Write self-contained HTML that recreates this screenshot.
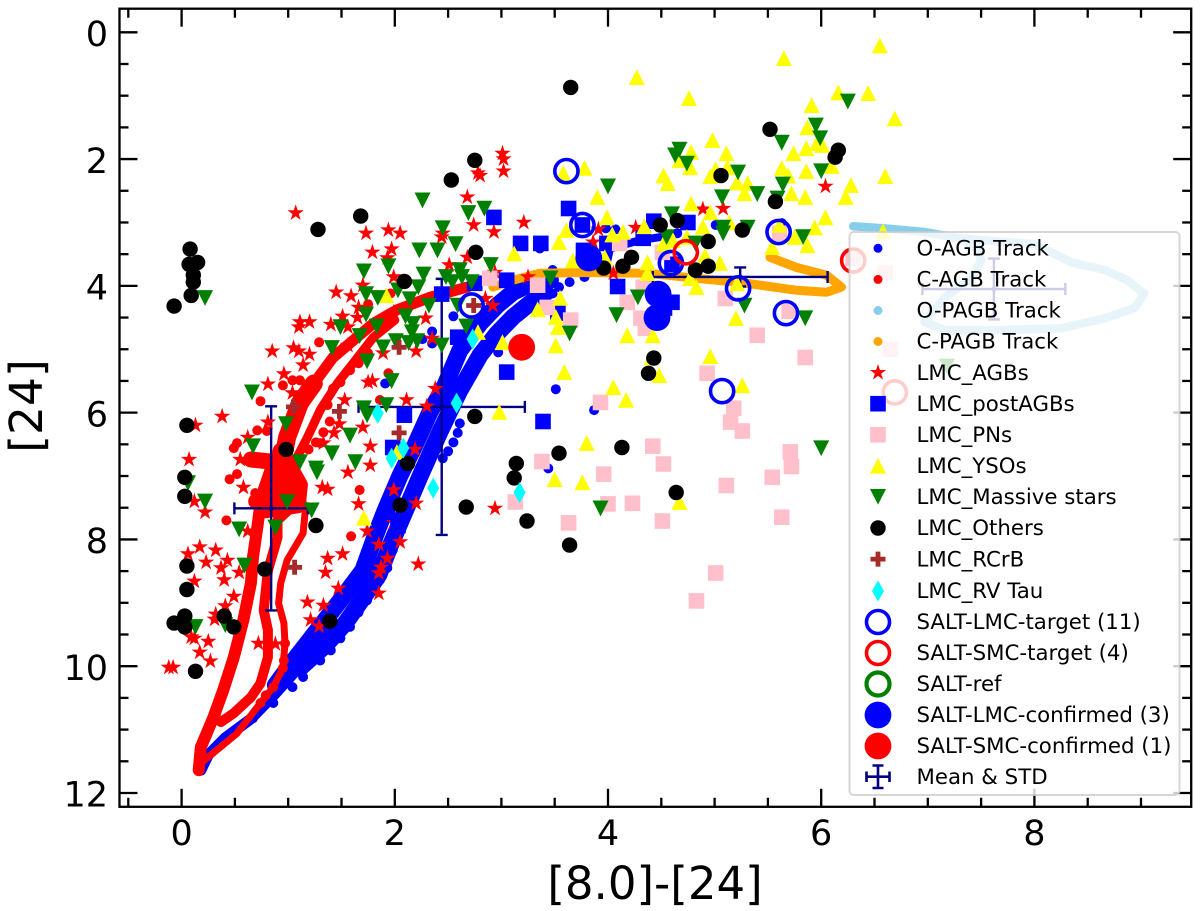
<!DOCTYPE html>
<html>
<head>
<meta charset="utf-8">
<title>Colour-magnitude diagram [24] vs [8.0]-[24]</title>
<style>
html,body{margin:0;padding:0;background:#fff;}
svg{display:block;}
text{font-family:"DejaVu Sans","Liberation Sans",sans-serif;fill:#000;}
.leg{font-size:21.3px;}
</style>
</head>
<body>
<svg id="chart" xmlns="http://www.w3.org/2000/svg" width="1200" height="911" viewBox="0 0 1200 911">
  <g id="tracks"></g>
  <g id="errorbars"></g>
  <g id="scatter"></g>
  <g id="axes"></g>

  <text x="655" y="899" font-size="45" text-anchor="middle">[8.0]-[24]</text>
  <text transform="translate(42,406) rotate(-90)" font-size="45.5" text-anchor="middle">[24]</text>

  <g>
    <rect x="849.5" y="232" width="330" height="563" rx="4" fill="#fff" fill-opacity="0.8" stroke="#ccc" stroke-opacity="0.8" stroke-width="2"/>
    <g><circle cx="878" cy="248.3" r="4.5" fill="#00f"/><text class="leg" x="916.5" y="255.5">O-AGB Track</text></g>
    <g><circle cx="878" cy="279.4" r="4.5" fill="#f00"/><text class="leg" x="916.5" y="286.6">C-AGB Track</text></g>
    <g><circle cx="878" cy="310.5" r="4.5" fill="#87ceeb"/><text class="leg" x="916.5" y="317.7">O-PAGB Track</text></g>
    <g><circle cx="878" cy="341.5" r="4.5" fill="#ffa500"/><text class="leg" x="916.5" y="348.7">C-PAGB Track</text></g>
    <g><polygon transform="translate(878,372.6)" points="0,-8.6 1.94,-2.66 8.18,-2.66 3.13,1.01 5.05,6.96 0,3.29 -5.05,6.96 -3.13,1.01 -8.18,-2.66 -1.94,-2.66" fill="#f00"/><text class="leg" x="916.5" y="379.8">LMC_AGBs</text></g>
    <g><rect x="870.2" y="395.9" width="15.6" height="15.6" fill="#00f"/><text class="leg" x="916.5" y="410.9">LMC_postAGBs</text></g>
    <g><rect x="870.2" y="427" width="15.6" height="15.6" fill="#ffc0cb"/><text class="leg" x="916.5" y="442">LMC_PNs</text></g>
    <g><polygon points="878,458 886,473.6 870,473.6" fill="#ff0"/><text class="leg" x="916.5" y="473">LMC_YSOs</text></g>
    <g><polygon points="870,489 886,489 878,504.6" fill="#008000"/><text class="leg" x="916.5" y="504.1">LMC_Massive stars</text></g>
    <g><circle cx="878" cy="528" r="7.7" fill="#000"/><text class="leg" x="916.5" y="535.2">LMC_Others</text></g>
    <g><path transform="translate(878,559.1)" d="M-2.4,-7.5H2.4V-2.4H7.5V2.4H2.4V7.5H-2.4V2.4H-7.5V-2.4H-2.4Z" fill="#a52a2a"/><text class="leg" x="916.5" y="566.3">LMC_RCrB</text></g>
    <g><polygon transform="translate(878,591)" points="0,-10.5 6,0 0,10.5 -6,0" fill="#0ff"/><text class="leg" x="916.5" y="598">LMC_RV Tau</text></g>
    <g><circle cx="878" cy="622" r="11.5" fill="none" stroke="#00f" stroke-width="3.6"/><text class="leg" x="916.5" y="629">SALT-LMC-target (11)</text></g>
    <g><circle cx="878" cy="653" r="11.5" fill="none" stroke="#f00" stroke-width="3.6"/><text class="leg" x="916.5" y="660">SALT-SMC-target (4)</text></g>
    <g><circle cx="878" cy="684" r="11.5" fill="none" stroke="#008000" stroke-width="4.2"/><text class="leg" x="916.5" y="691">SALT-ref</text></g>
    <g><circle cx="878" cy="715" r="13.4" fill="#00f"/><text class="leg" x="916.5" y="722">SALT-LMC-confirmed (3)</text></g>
    <g><circle cx="878" cy="746" r="13.4" fill="#f00"/><text class="leg" x="916.5" y="753">SALT-SMC-confirmed (1)</text></g>
    <g stroke="#000080" stroke-width="2.6" fill="none"><path d="M866.5,776.7H889.5M878,765.5V788M866.5,771.5V782M889.5,771.5V782M872.5,765.5H883.5M872.5,788H883.5"/><text class="leg" x="916.5" y="784" stroke="none" style="fill:#000">Mean &amp; STD</text></g>
  </g>
</svg>

<script>
/* ---------- chart data (values in axis units: [8.0]-[24], [24]) ---------- */
const xTickValues = [0, 2, 4, 6, 8];
const yTickValues = [0, 2, 4, 6, 8, 10, 12];
const xMinorTicks = [-0.5, 0.5, 1, 1.5, 2.5, 3, 3.5, 4.5, 5, 5.5, 6.5, 7, 7.5, 8.5, 9];
const yMinorTicks = [0.5, 1, 1.5, 2.5, 3, 3.5, 4.5, 5, 5.5, 6.5, 7, 7.5, 8.5, 9, 9.5, 10.5, 11, 11.5];

const oAgbTail = [[.18,11.64],[.25,11.40],[.41,11.13],[.65,10.83],[.88,10.43],[1.11,10.0]];
const oAgbStrandA = [[.88,10.30],[1.02,9.98],[1.26,9.46],[1.49,8.96],[1.70,8.49],[1.82,7.93],[1.91,7.54],[2.05,6.99],[2.19,6.51],[2.33,5.99],[2.47,5.57],[2.61,5.02],[2.80,4.59],[2.96,4.31],[3.11,4.10],[3.27,3.97],[3.46,3.91]];
const oAgbStrandB = [[1.11,10.03],[1.35,9.67],[1.54,9.31],[1.72,8.88],[1.85,8.56],[1.96,8.09],[2.10,7.54],[2.24,6.99],[2.43,6.28],[2.61,5.65],[2.80,5.09],[2.96,4.75],[3.11,4.49],[3.27,4.27],[3.41,4.12]];
const oAgbStrandC = [[3.99,3.63],[4.02,3.41],[4.30,3.28],[4.53,3.22]];
const oAgbDots = [[2.55,4.48],[2.35,4.72],[2.26,4.84],[2.35,4.91],[1.91,5.54],[2.61,6.17],[2.59,6.32],[2.55,6.47],[2.50,6.61],[2.45,6.72],[3.51,5.63],[3.87,5.96],[3.44,6.88],[2.97,5.05],[3.98,3.09],[4.07,3.11],[4.65,3.17],[5.01,3.04],[5.63,3.01],[3.36,3.41],[3.48,3.75],[3.64,3.94],[3.54,4.02],[3.48,4.12],[3.39,4.18],[3.78,3.86],[.67,10.82],[.86,10.58],[1.04,10.33],[1.14,10.17],[1.30,9.91],[1.40,9.75],[1.49,9.56],[1.58,9.38],[1.66,9.15],[1.74,8.96],[1.80,8.80],[1.86,8.64],[1.93,8.45],[1.98,8.17]];

const cAgbOuter = [[.16,11.64],[.18,11.28],[.30,10.80],[.39,10.38],[.49,9.86],[.58,9.27],[.65,8.69],[.67,8.28],[.71,7.81],[.74,7.43],[.81,7.07],[.93,6.91]];
const cAgbUpperThick = [[.85,7.10],[.93,6.91],[.99,6.39],[1.11,5.85],[1.24,5.54]];
const cAgbUpperBand = [[1.24,5.54],[1.42,5.13],[1.61,4.86],[1.80,4.59],[2.02,4.38],[2.33,4.18],[2.68,4.02]];
const cAgbInnerLoop = [[.30,10.80],[.37,10.88],[.49,10.74],[.65,10.49],[.74,10.27],[.81,9.86],[.81,9.43],[.77,9.12],[.81,8.49],[.90,7.97],[.90,7.70],[1.02,7.51],[1.09,7.33],[1.02,7.11]];
const cAgbSecondBand = [[1.02,6.91],[1.18,6.39],[1.30,5.96],[1.46,5.54],[1.61,5.22],[1.80,4.81],[2.00,4.54]];
const cAgbOuterRight = [[.18,11.53],[.52,11.06],[.74,10.58],[.86,10.33],[.95,10.03],[.97,9.64],[.96,9.32],[.91,9.01],[.93,8.69],[.99,8.33],[1.14,7.90],[1.16,7.54],[1.11,7.22],[1.05,7.02],[.93,6.78]];
const cAgbKnot = [[.65,6.74],[.88,6.78],[.79,7.22],[1.02,6.91],[.95,7.38],[.79,7.54],[1.09,7.46],[1.11,7.14],[.93,6.60],[.86,7.40],[.70,7.40]];
const cAgbDots = [[1.29,4.89],[.74,5.82],[.71,6.28],[.80,6.29],[.52,6.48],[.49,6.56],[.67,6.72],[.77,6.72],[.95,5.57],[1.04,5.49],[1.11,5.49],[1.75,4.29],[1.96,4.12],[1.94,5.38],[1.86,5.80],[1.75,5.06],[1.39,6.14],[1.33,6.31],[1.26,6.47],[1.19,6.58],[1.30,6.48],[1.66,5.22],[1.58,5.33],[1.49,5.52],[1.42,5.62],[1.37,5.88],[.52,6.97],[.45,7.05],[.42,7.70],[.69,7.27],[1.67,7.22],[1.59,7.95],[.97,9.64],[.96,9.91],[.95,10.03],[.86,10.33],[.79,10.46],[.74,10.58]];

const oPagbTrack = [[6.30,3.06],[6.58,3.09],[6.97,3.15],[7.30,3.25],[7.67,3.30],[8.00,3.34],[8.35,3.63],[8.66,3.75],[8.87,3.91],[9.03,4.12],[8.94,4.35],[8.66,4.51],[8.25,4.67],[7.63,4.70],[7.16,4.70],[6.97,4.57],[7.16,4.18],[7.41,3.88],[7.50,3.60],[7.47,3.41],[7.30,3.25]];
const cPagbTrack = [[5.52,3.55],[5.77,3.71],[6.05,3.83],[6.19,4.02],[6.05,4.10],[5.77,4.07],[5.30,3.96],[4.83,3.88],[4.37,3.80],[3.74,3.79],[3.36,3.80],[3.11,3.91],[2.92,4.02]];

const lmcAgbs = [[1.07,2.85],[1.73,3.17],[1.94,3.12],[2.05,3.17],[1.79,3.47],[1.97,3.42],[1.93,3.56],[2.44,3.23],[2.45,3.17],[2.74,3.04],[2.78,2.22],[2.68,2.60],[2.68,3.55],[2.51,3.67],[1.99,3.86],[1.70,3.99],[1.45,4.10],[1.59,4.16],[1.66,4.34],[1.51,4.48],[1.20,4.57],[1.11,4.57],[1.10,4.65],[1.40,4.61],[1.65,4.50],[1.56,4.65],[.85,5.03],[1.05,4.98],[1.10,5.03],[1.20,5.08],[1.14,5.25],[1.56,4.94],[1.89,5.06],[2.20,5.03],[2.35,4.83],[2.29,4.51],[1.99,4.42],[.96,5.39],[.81,5.55],[1.04,5.69],[1.75,5.52],[1.79,5.50],[1.53,5.80],[2.11,5.80],[2.38,5.62],[2.30,5.90],[.38,6.06],[.81,6.15],[1.70,6.23],[1.48,6.18],[1.43,6.32],[.62,6.39],[1.33,6.48],[1.77,6.53],[2.19,6.58],[.07,6.74],[.55,6.74],[1.77,6.83],[.13,6.20],[.58,7.18],[.12,7.40],[.22,7.57],[.62,7.87],[1.56,6.94],[1.32,7.18],[1.37,7.21],[1.66,7.44],[1.74,7.87],[1.99,7.22],[2.20,7.43],[1.99,7.73],[1.85,8.08],[2.05,8.04],[.06,8.23],[.17,8.12],[.32,8.17],[.23,8.36],[.43,8.33],[.37,8.45],[.54,8.52],[.40,8.64],[.12,8.66],[1.37,8.30],[1.51,8.23],[1.35,8.52],[1.47,8.77],[1.93,8.30],[1.87,8.44],[1.85,8.53],[2.22,8.39],[1.85,8.85],[.49,8.90],[1.18,8.99],[1.33,9.04],[.41,9.05],[.32,9.18],[.31,9.26],[1.21,9.27],[1.29,9.37],[.09,9.54],[.12,9.56],[.25,9.61],[.72,9.64],[.88,9.65],[.17,9.78],[.27,9.92],[-.12,10.02],[-.08,10.02],[3.01,1.91],[3.02,2.00],[3.02,2.19],[2.80,2.26],[3.21,3.00],[2.93,3.15],[3.91,3.11],[4.26,3.08],[4.89,2.79],[5.08,2.78],[6.04,2.43],[3.86,3.31],[4.05,3.80],[3.25,3.86],[2.92,4.31],[2.85,4.20],[2.94,3.79],[2.94,7.51]];
const lmcPostAgbs = [[2.75,3.96],[2.44,4.13],[2.59,4.81],[2.09,6.04],[1.98,6.55],[1.93,7.57],[2.03,7.78],[2.93,2.92],[3.63,2.78],[3.18,3.33],[3.37,3.33],[3.76,3.04],[3.05,3.91],[3.77,3.44],[3.99,3.33],[4.33,3.25],[4.43,2.98],[4.75,3.00],[4.60,3.66],[4.09,4.01],[4.60,4.26],[4.53,4.35],[3.53,4.43],[3.05,5.36],[3.39,6.14]];
const lmcPns = [[2.89,3.88],[3.34,3.99],[4.11,3.33],[4.18,4.26],[4.33,4.02],[4.31,4.51],[4.35,4.67],[5.10,4.20],[5.61,3.17],[5.70,4.40],[3.43,4.34],[3.65,4.54],[5.40,4.78],[4.51,3.47],[6.30,3.56],[6.60,3.79],[6.65,5.00],[5.85,5.13],[4.93,5.38],[5.18,5.93],[5.15,6.15],[5.26,6.29],[3.93,5.84],[4.42,6.53],[4.52,6.81],[3.96,6.97],[5.11,7.15],[5.54,7.02],[5.71,6.62],[5.72,6.85],[3.38,6.77],[3.13,7.41],[4.00,7.44],[4.23,7.43],[4.51,7.71],[3.63,7.74],[5.63,7.65],[5.01,8.53],[4.83,8.97]];
const lmcYsos = [[5.65,.41],[6.55,.21],[6.69,1.36],[6.44,.96],[6.60,2.27],[6.58,3.14],[4.27,.71],[4.76,1.04],[4.98,1.70],[5.11,1.91],[4.78,1.89],[6.16,.95],[5.91,1.15],[5.87,1.50],[5.74,1.91],[5.86,1.83],[5.96,1.75],[6.01,1.78],[5.63,2.14],[5.69,2.26],[5.86,2.19],[6.10,2.11],[4.77,2.13],[4.67,2.02],[4.52,2.26],[4.56,2.38],[3.78,2.14],[3.58,2.22],[5.01,2.16],[4.96,2.27],[5.12,2.13],[5.21,2.37],[5.31,2.38],[5.28,2.54],[5.72,2.54],[5.85,2.60],[6.28,2.41],[6.23,2.60],[3.90,2.60],[3.99,2.92],[4.78,2.70],[4.96,2.84],[6.04,2.92],[5.94,3.08],[3.61,3.12],[3.54,3.31],[4.04,3.19],[4.14,3.15],[4.34,3.06],[4.89,3.07],[5.14,3.00],[4.52,3.33],[4.61,3.28],[4.74,3.23],[3.12,3.49],[3.67,3.60],[3.97,3.55],[4.37,3.63],[4.91,3.52],[5.05,3.64],[5.54,3.39],[5.87,3.36],[5.61,3.04],[5.75,3.23],[4.77,3.88],[4.83,4.02],[5.21,3.96],[4.37,3.80],[3.55,4.19],[3.34,4.37],[3.51,4.49],[3.53,4.65],[4.18,4.78],[4.42,4.78],[5.20,4.51],[3.51,4.94],[3.01,4.89],[3.59,5.36],[4.05,5.60],[4.17,5.80],[4.96,5.11],[5.26,5.57],[4.41,5.13],[4.48,5.41],[2.98,5.99],[3.80,6.48],[3.50,7.05],[3.76,7.10],[4.67,7.41],[1.92,4.15],[1.71,7.66],[2.78,4.73],[2.02,6.62]];
const lmcMassive = [[2.26,2.65],[2.45,3.09],[2.69,2.85],[2.57,3.34],[2.40,3.44],[2.23,3.44],[1.71,3.77],[1.94,3.69],[2.27,3.82],[2.48,3.86],[2.61,3.75],[2.72,3.94],[2.54,3.94],[2.63,3.86],[2.22,4.02],[2.03,4.07],[1.73,4.13],[1.84,4.19],[2.14,4.21],[2.32,4.31],[1.73,4.45],[2.10,4.48],[1.83,4.64],[2.17,4.60],[1.49,4.65],[1.67,4.79],[2.16,4.73],[2.67,4.64],[1.41,4.98],[1.89,4.97],[2.01,4.87],[2.21,4.87],[2.13,4.90],[2.44,4.94],[1.74,5.19],[1.97,5.50],[.66,5.68],[1.92,5.88],[1.71,5.93],[1.74,6.04],[.98,6.18],[1.58,6.36],[.67,6.53],[1.41,6.64],[1.11,6.78],[1.26,6.88],[1.63,6.78],[.22,4.19],[2.59,4.31],[.06,7.11],[.22,7.40],[.99,7.41],[1.22,7.54],[.54,7.84],[.88,7.81],[.59,8.41],[.13,9.38],[.41,9.35],[1.27,6.94],[4.00,2.43],[4.67,1.85],[4.63,1.94],[4.74,2.07],[5.22,2.21],[5.40,2.55],[5.07,2.60],[5.63,1.74],[5.95,1.47],[5.99,1.67],[6.25,1.09],[6.00,2.19],[5.64,2.40],[5.59,2.62],[4.60,2.87],[5.08,3.08],[5.31,3.08],[5.08,3.17],[5.83,3.23],[4.82,3.33],[4.55,3.23],[3.46,3.88],[2.90,3.67],[2.84,2.78],[4.28,4.18],[4.08,4.46],[5.28,4.31],[5.85,4.51],[3.64,4.75],[6.00,6.56],[3.93,7.51],[7.18,5.27]];
const lmcOthers = [[3.65,.87],[5.52,1.53],[6.16,1.86],[6.13,1.97],[5.06,2.26],[5.57,2.67],[2.75,2.02],[2.53,2.33],[1.68,2.90],[1.28,3.11],[.08,3.42],[.07,3.66],[.15,3.63],[.11,3.83],[.11,3.94],[.09,4.15],[-.07,4.32],[2.09,3.93],[2.76,3.47],[.05,6.20],[.98,6.58],[2.12,6.80],[2.75,6.06],[.03,7.02],[.03,7.32],[2.05,7.46],[2.67,7.49],[1.26,7.78],[.05,8.42],[.78,8.47],[.05,8.79],[.03,9.21],[-.07,9.32],[.03,9.38],[.40,9.21],[.49,9.38],[1.39,9.29],[.13,10.08],[4.49,3.04],[4.65,2.97],[5.26,3.12],[4.94,3.30],[4.22,3.55],[4.14,3.69],[3.96,3.72],[4.82,3.75],[4.94,3.69],[4.43,5.14],[4.38,5.38],[3.54,6.64],[4.13,6.55],[3.14,6.80],[3.12,7.03],[4.64,7.26],[3.24,7.71],[3.64,8.09]];
const lmcRcrb = [[2.74,4.31],[2.04,4.97],[1.05,5.91],[1.48,5.98],[2.04,6.32],[1.06,8.44]];
const lmcRvTau = [[1.84,6.01],[2.73,4.84],[2.58,5.85],[2.08,6.56],[1.97,6.72],[2.36,7.19],[3.17,7.26]];
const saltLmcTargets = [[3.61,2.19],[3.76,3.04],[2.72,4.31],[4.59,3.64],[5.22,4.04],[5.60,3.15],[5.67,4.43],[5.07,5.66]];
const saltSmcTargets = [[4.73,3.47],[6.30,3.60],[6.69,5.68]];
const saltLmcConfirmed = [[3.82,3.56],[4.47,4.13],[4.46,4.50]];
const saltSmcConfirmed = [[3.19,4.97]];
/* mean x, x std, mean y, y std */
const meanStd = [[.84,.345,7.51,1.61],[2.44,.78,5.91,2.02],[5.24,.82,3.86,.15],[7.62,.67,4.05,.48]];

/* ---------- axes ---------- */
const SVGNS = 'http://www.w3.org/2000/svg';
const xScale = v => 181.6 + 106.6 * v;
const yScale = v => 32.3 + 63.39 * v;
const frameL = 119.5, frameR = 1191.2, frameT = 8.7, frameB = 806.8;

function make(parent, tag, name) {
  const el = document.createElementNS(SVGNS, tag);
  
  
  parent.appendChild(el);
  return el;
}

function drawPolyline(parent, pts, color, width, name) {
  const el = make(parent, 'polyline', name);
  el.setAttribute('points', pts.map(p => xScale(p[0]).toFixed(1) + ',' + yScale(p[1]).toFixed(1)).join(' '));
  el.setAttribute('fill', 'none');
  el.setAttribute('stroke', color);
  el.setAttribute('stroke-width', width);
  el.setAttribute('stroke-linecap', 'round');
  el.setAttribute('stroke-linejoin', 'round');
}

function starPoints(cx, cy, r) {
  const out = [];
  for (let i = 0; i < 10; i++) {
    const a = -Math.PI / 2 + i * Math.PI / 5;
    const rr = i % 2 ? r * 0.382 : r;
    out.push((cx + rr * Math.cos(a)).toFixed(1) + ',' + (cy + rr * Math.sin(a)).toFixed(1));
  }
  return out.join(' ');
}

function drawPoint(parent, shape, d, color, name) {
  const cx = xScale(d[0]), cy = yScale(d[1]);
  let el;
  if (shape === 'dot' || shape === 'circle' || shape === 'big' || shape === 'ring') {
    el = make(parent, 'circle', name);
    el.setAttribute('cx', cx.toFixed(1));
    el.setAttribute('cy', cy.toFixed(1));
    el.setAttribute('r', shape === 'dot' ? 5 : shape === 'circle' ? 7.7 : shape === 'big' ? 13.4 : 11.6);
    if (shape === 'ring') {
      el.setAttribute('fill', 'none');
      el.setAttribute('stroke', color);
      el.setAttribute('stroke-width', 3.6);
    } else {
      el.setAttribute('fill', color);
    }
    return;
  }
  if (shape === 'square') {
    el = make(parent, 'rect', name);
    el.setAttribute('x', (cx - 7.8).toFixed(1));
    el.setAttribute('y', (cy - 7.8).toFixed(1));
    el.setAttribute('width', 15.6);
    el.setAttribute('height', 15.6);
    el.setAttribute('fill', color);
    return;
  }
  if (shape === 'plus') {
    el = make(parent, 'path', name);
    el.setAttribute('transform', 'translate(' + cx.toFixed(1) + ',' + cy.toFixed(1) + ')');
    el.setAttribute('d', 'M-2.4,-7.5H2.4V-2.4H7.5V2.4H2.4V7.5H-2.4V2.4H-7.5V-2.4H-2.4Z');
    el.setAttribute('fill', color);
    return;
  }
  el = make(parent, 'polygon', name);
  let pts;
  if (shape === 'star') pts = starPoints(cx, cy, 8.6);
  if (shape === 'up') pts = cx + ',' + (cy - 8) + ' ' + (cx + 8) + ',' + (cy + 7.8) + ' ' + (cx - 8) + ',' + (cy + 7.8);
  if (shape === 'down') pts = (cx - 8) + ',' + (cy - 7.8) + ' ' + (cx + 8) + ',' + (cy - 7.8) + ' ' + cx + ',' + (cy + 8);
  if (shape === 'diamond') pts = cx + ',' + (cy - 10.5) + ' ' + (cx + 6) + ',' + cy + ' ' + cx + ',' + (cy + 10.5) + ' ' + (cx - 6) + ',' + cy;
  el.setAttribute('points', pts);
  el.setAttribute('fill', color);
}

/* tracks */
const tracks = document.getElementById('tracks');
drawPolyline(tracks, oAgbTail, '#0000ff', 11, 'o-agb-track-tail');
drawPolyline(tracks, oAgbStrandA, '#0000ff', 17, 'o-agb-track-strand-a');
drawPolyline(tracks, oAgbStrandB, '#0000ff', 17, 'o-agb-track-strand-b');
drawPolyline(tracks, oAgbStrandC, '#0000ff', 8, 'o-agb-track-strand-c');
oAgbDots.forEach(d => drawPoint(tracks, 'dot', d, '#0000ff', 'o-agb-track-point'));
drawPolyline(tracks, cAgbOuter, '#ff0000', 12, 'c-agb-track-outer');
drawPolyline(tracks, cAgbUpperThick, '#ff0000', 18, 'c-agb-track-upper-thick');
drawPolyline(tracks, cAgbUpperBand, '#ff0000', 11, 'c-agb-track-upper-band');
drawPolyline(tracks, cAgbInnerLoop, '#ff0000', 10, 'c-agb-track-inner-loop');
drawPolyline(tracks, cAgbSecondBand, '#ff0000', 9, 'c-agb-track-second-band');
drawPolyline(tracks, cAgbOuterRight, '#ff0000', 7, 'c-agb-track-outer-right');
drawPolyline(tracks, cAgbKnot, '#ff0000', 16, 'c-agb-track-knot');
cAgbDots.forEach(d => drawPoint(tracks, 'dot', d, '#ff0000', 'c-agb-track-point'));
drawPolyline(tracks, oPagbTrack, '#87ceeb', 8.5, 'o-pagb-track');
drawPolyline(tracks, cPagbTrack, '#ffa500', 9, 'c-pagb-track');

/* error bars */
const ebGroup = document.getElementById('errorbars');
meanStd.forEach(m => {
  const cx = xScale(m[0]), cy = yScale(m[2]);
  const xl = xScale(m[0] - m[1]), xr = xScale(m[0] + m[1]);
  const yt = yScale(m[2] - m[3]), yb = yScale(m[2] + m[3]);
  const el = make(ebGroup, 'path', 'mean-std-errorbar');
  el.setAttribute('d', 'M' + xl + ',' + cy + 'H' + xr + 'M' + cx + ',' + yt + 'V' + yb +
    'M' + xl + ',' + (cy - 6) + 'V' + (cy + 6) + 'M' + xr + ',' + (cy - 6) + 'V' + (cy + 6) +
    'M' + (cx - 6) + ',' + yt + 'H' + (cx + 6) + 'M' + (cx - 6) + ',' + yb + 'H' + (cx + 6));
  el.setAttribute('fill', 'none');
  el.setAttribute('stroke', '#000080');
  el.setAttribute('stroke-width', 2.4);
  const dot = make(ebGroup, 'circle', 'mean-std-marker');
  dot.setAttribute('cx', cx);
  dot.setAttribute('cy', cy);
  dot.setAttribute('r', 2.5);
  dot.setAttribute('fill', '#000080');
});

/* scatter series */
const scatter = document.getElementById('scatter');
lmcAgbs.forEach(d => drawPoint(scatter, 'star', d, '#ff0000', 'lmc-agb-point'));
lmcPostAgbs.forEach(d => drawPoint(scatter, 'square', d, '#0000ff', 'lmc-postagb-point'));
lmcPns.forEach(d => drawPoint(scatter, 'square', d, '#ffc0cb', 'lmc-pn-point'));
lmcYsos.forEach(d => drawPoint(scatter, 'up', d, '#ffff00', 'lmc-yso-point'));
lmcMassive.forEach(d => drawPoint(scatter, 'down', d, '#008000', 'lmc-massive-star-point'));
lmcOthers.forEach(d => drawPoint(scatter, 'circle', d, '#000000', 'lmc-other-point'));
lmcRcrb.forEach(d => drawPoint(scatter, 'plus', d, '#a52a2a', 'lmc-rcrb-point'));
lmcRvTau.forEach(d => drawPoint(scatter, 'diamond', d, '#00ffff', 'lmc-rv-tau-point'));
saltLmcTargets.forEach(d => drawPoint(scatter, 'ring', d, '#0000ff', 'salt-lmc-target-point'));
saltSmcTargets.forEach(d => drawPoint(scatter, 'ring', d, '#ff0000', 'salt-smc-target-point'));
saltLmcConfirmed.forEach(d => drawPoint(scatter, 'big', d, '#0000ff', 'salt-lmc-confirmed-point'));
saltSmcConfirmed.forEach(d => drawPoint(scatter, 'big', d, '#ff0000', 'salt-smc-confirmed-point'));

/* axes: frame and ticks on all four sides, inward */
const axes = document.getElementById('axes');
function tickLine(x1, y1, x2, y2, name) {
  const l = make(axes, 'line', name);
  l.setAttribute('x1', x1);
  l.setAttribute('y1', y1);
  l.setAttribute('x2', x2);
  l.setAttribute('y2', y2);
  l.setAttribute('stroke', '#000');
  l.setAttribute('stroke-width', 2.3);
}
xTickValues.forEach(v => {
  const x = xScale(v);
  tickLine(x, frameB, x, frameB - 18, 'x-major-tick');
  tickLine(x, frameT, x, frameT + 18, 'x-major-tick-top');
  const t = make(axes, 'text', 'x-tick-label');
  t.setAttribute('x', x);
  t.setAttribute('y', 845);
  t.setAttribute('font-size', 35);
  t.setAttribute('text-anchor', 'middle');
  t.textContent = v;
});
xMinorTicks.forEach(v => {
  const x = xScale(v);
  tickLine(x, frameB, x, frameB - 9, 'x-minor-tick');
  tickLine(x, frameT, x, frameT + 9, 'x-minor-tick-top');
});
yTickValues.forEach(v => {
  const y = yScale(v);
  tickLine(frameL, y, frameL + 18, y, 'y-major-tick');
  tickLine(frameR, y, frameR - 18, y, 'y-major-tick-right');
  const t = make(axes, 'text', 'y-tick-label');
  t.setAttribute('x', 108);
  t.setAttribute('y', y + 13.7);
  t.setAttribute('font-size', 35);
  t.setAttribute('text-anchor', 'end');
  t.textContent = v;
});
yMinorTicks.forEach(v => {
  const y = yScale(v);
  tickLine(frameL, y, frameL + 9, y, 'y-minor-tick');
  tickLine(frameR, y, frameR - 9, y, 'y-minor-tick-right');
});
const frame = make(axes, 'rect', 'plot-frame');
frame.setAttribute('x', frameL);
frame.setAttribute('y', frameT);
frame.setAttribute('width', frameR - frameL);
frame.setAttribute('height', frameB - frameT);
frame.setAttribute('fill', 'none');
frame.setAttribute('stroke', '#000');
frame.setAttribute('stroke-width', 2.3);
</script>
</body>
</html>
